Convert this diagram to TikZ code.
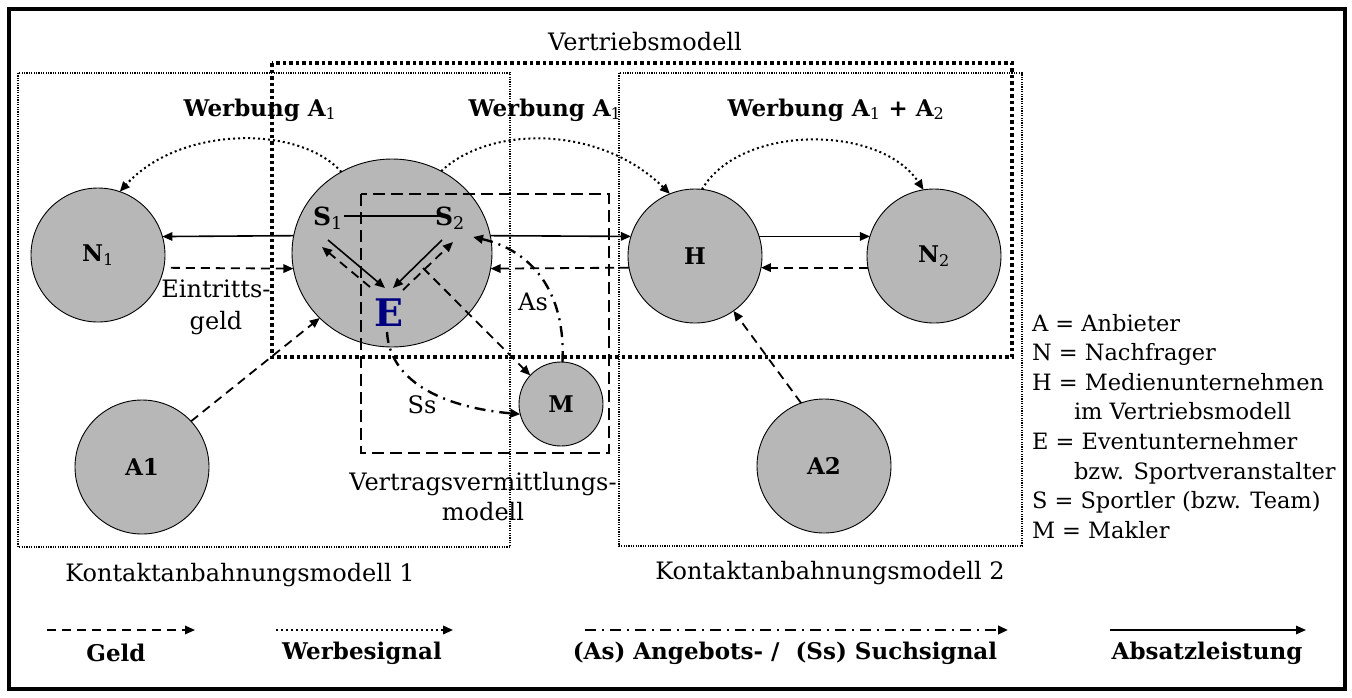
\documentclass[tikz,border=0pt]{standalone}
\usepackage{fontspec}
\setmainfont{DejaVu Serif}
\usetikzlibrary{arrows.meta,shapes.geometric}

\definecolor{actorgray}{RGB}{183,183,183}
\definecolor{eventblue}{RGB}{0,0,128}

\newcommand{\txtfont}{\fontsize{24}{30}\selectfont}
\newcommand{\keyfont}{\fontsize{22.5}{29.6}\selectfont}
\newcommand{\boldfont}{\fontsize{23}{30}\selectfont\bfseries}
\newcommand{\sub}[1]{\textsubscript{\mdseries #1}}

\begin{document}
\begin{tikzpicture}[x=1pt,y=-1pt,
  every node/.style={inner sep=0pt, outer sep=0pt},
  tip/.style={-{Triangle[length=10pt,width=8.5pt]}},
  actor/.style={circle, draw=black, line width=0.9pt, fill=actorgray,
    minimum size=134pt, font=\boldfont},
  absatz/.style={tip, line width=1.6pt},
  geld/.style={tip, line width=1.8pt, dash pattern=on 9pt off 6pt},
  werbung/.style={tip, line width=2pt, dash pattern=on 2pt off 3pt},
  signal/.style={tip, line width=2.4pt, dash pattern=on 11pt off 6pt on 2pt off 6pt},
  plainlink/.style={line width=1.6pt},
  vbox/.style={line width=3.5pt, dash pattern=on 3.5pt off 3pt},
  kbox/.style={line width=1.2pt, dash pattern=on 1.2pt off 1.2pt},
  vvbox/.style={line width=2pt, dash pattern=on 12pt off 6pt},
  lbl/.style={font=\txtfont},
  blbl/.style={font=\boldfont},
]
\useasboundingbox (0,0) rectangle (1352,697);

% outer frame
\draw[line width=4pt] (9,9) rectangle (1345,689);

% actors
\node[actor] (N1) at (98,255) {N\sub{1}};
\node[ellipse, draw=black, line width=0.9pt, fill=actorgray,
      minimum width=200pt, minimum height=188pt] (E) at (392,253) {};
\node[actor] (H)  at (695,256) {H};
\node[actor] (N2) at (934,256) {N\sub{2}};
\node[actor] (A1) at (142,467) {A1};
\node[actor] (A2) at (824,466) {A2};
\node[actor, minimum size=84pt] (M) at (561,404) {M};

% contents of the event company
\node[font=\fontsize{25}{30}\selectfont\bfseries] (S1) at (328,218) {S\sub{1}};
\node[font=\fontsize{25}{30}\selectfont\bfseries] (S2) at (450,218) {S\sub{2}};
\node[font=\fontsize{38}{40}\selectfont\bfseries, text=eventblue] (Et) at (389,313) {E};

% model frames
\draw[vbox]  (272,63) rectangle (1012,357);
\draw[kbox]  (18,73) rectangle (510,547);
\draw[kbox]  (619,73) rectangle (1022,546);
\draw[vvbox] (361,194) rectangle (609,453);

% frame titles
\node[lbl] (tV) at (645,42) {Vertriebsmodell};
\node[lbl] (tK1) at (240,575) {Kontaktanbahnungsmodell 1};
\node[lbl] (tK2) at (830,573) {Kontaktanbahnungsmodell 2};
\node[lbl, align=center] (tVV) at (483,497) {Vertragsvermittlungs-\\modell};

% advertising labels
\node[blbl] (w1) at (260,110) {Werbung A\sub{1}};
\node[blbl] (w2) at (545,110) {Werbung A\sub{1}};
\node[blbl] (w3) at (836,110) {Werbung A\sub{1} + A\sub{2}};

% advertising signals
\draw[werbung] (E.122) .. controls (300,125) and (180,125) .. (N1.71);
\draw[werbung] (E.59) .. controls (490,125) and (600,125) .. (H.112);
\draw[werbung] (H.84) .. controls (740,124) and (880,124) .. (N2.99);

% sales performance
\draw[absatz] (E.170) -- (N1.16);
\draw[absatz] (E.10) -- (H.163);
\draw[absatz] (H.17) -- (N2.163);

% money
\draw[geld, shorten <=7pt] (N1.-11) -- (E.189);
\node[lbl, align=center, font=\fontsize{24}{32}\selectfont] (tEin) at (216,307) {Eintritts-\\geld};
\draw[geld] (H.190) -- (E.-9);
\draw[geld] (N2.190) -- (H.-10);
\draw[geld] (A1.43) -- (E.222);
\draw[geld] (A2.110) -- (H.-55);

% relations inside the event company
\draw[plainlink] ([shift={(16,-2)}]S1.center) -- ([shift={(-10,-2)}]S2.center);
\draw[absatz] ([shift={(0,22)}]S1.center) -- ([shift={(-4,-25)}]Et.center);
\draw[geld] ([shift={(-19,-26)}]Et.center) -- ([shift={(-6,29)}]S1.center);
\draw[absatz] ([shift={(-8,22)}]S2.center) -- ([shift={(4,-25)}]Et.center);
\draw[geld] ([shift={(14,-23)}]Et.center) -- ([shift={(3,24)}]S2.center);
\draw[geld] ([shift={(34,-45)}]Et.center) -- (M.137);

% offer and search signals
\draw[signal] (M.88) .. controls (566,290) and (530,250) .. ([shift={(23,19)}]S2.center);
\draw[signal] ([shift={(-2,19)}]Et.center) .. controls (390,385) and (450,408) .. (M.194);
\node[lbl] (tAs) at (533,302) {As};
\node[lbl] (tSs) at (422,405) {Ss};

% abbreviations
\node[font=\keyfont, anchor=north west, align=left] (abbr) at (1032,314)
  {A = Anbieter\\
   N = Nachfrager\\
   H = Medienunternehmen\\
   \hspace*{42pt}im Vertriebsmodell\\
   E = Eventunternehmer\\
   \hspace*{42pt}bzw. Sportveranstalter\\
   S = Sportler (bzw. Team)\\
   M = Makler};

% key of line styles
\coordinate (k1a) at (47,630);   \coordinate (k1b) at (195,630);
\coordinate (k2a) at (276,630);  \coordinate (k2b) at (453,630);
\coordinate (k3a) at (585,630);  \coordinate (k3b) at (1008,630);
\coordinate (k4a) at (1110,630); \coordinate (k4b) at (1306,630);
\draw[geld] (k1a) -- (k1b);
\draw[werbung] (k2a) -- (k2b);
\draw[signal] (k3a) -- (k3b);
\draw[absatz] (k4a) -- (k4b);
\node[blbl] (kGeld) at (116,653) {Geld};
\node[blbl] (kWerb) at (362,653) {Werbesignal};
\node[blbl] (kSig) at (785,653) {(As) Angebots- /\ \ (Ss) Suchsignal};
\node[blbl] (kAbs) at (1207,653) {Absatzleistung};
\end{tikzpicture}
\end{document}
